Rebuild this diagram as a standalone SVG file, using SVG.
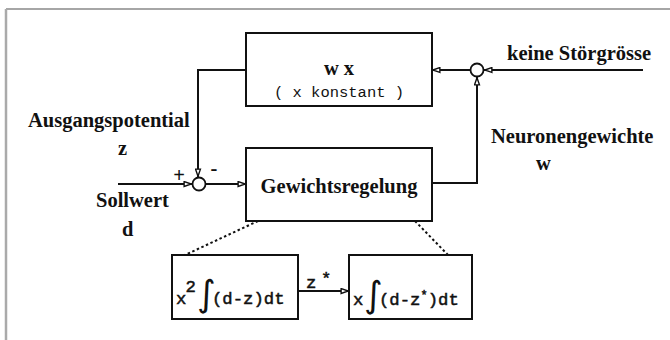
<svg xmlns="http://www.w3.org/2000/svg" width="670" height="340" viewBox="0 0 670 340">
<style>
.box{fill:#fff;stroke:#111;stroke-width:2}
.sum{fill:#fff;stroke:#111;stroke-width:1.8}
.ln{fill:none;stroke:#111;stroke-width:2}
.dot{fill:none;stroke:#111;stroke-width:2;stroke-dasharray:2.5 2.5}
.lbl{font-family:"Liberation Serif","Times New Roman",serif;font-weight:bold;font-size:20.5px;fill:#111}
.mono{font-family:"Liberation Mono","Courier New",monospace;font-size:15.5px;fill:#111}
.f{font-family:"Liberation Mono","Courier New",monospace;font-size:17.3px;fill:#111;stroke:#111;stroke-width:0.5}
.int{font-family:"DejaVu Sans",sans-serif;font-size:36px;fill:#111}
</style>
<defs>
<marker id="ah" viewBox="0 0 10 8" refX="10" refY="4" markerWidth="9" markerHeight="7" markerUnits="userSpaceOnUse" orient="auto">
<path d="M1,1.2 L9.2,4 L1,6.8 Z" fill="#fff" stroke="#111" stroke-width="1.6"/>
</marker>
</defs>
<rect width="670" height="340" fill="#fff"/>
<g id="frame">
<line x1="6" y1="9" x2="670" y2="9" stroke="#888" stroke-width="1.5"/>
<line x1="6" y1="9" x2="6" y2="340" stroke="#aaa" stroke-width="2.5"/>
</g>
<g id="connectors">
<polyline class="ln" points="246,70 198,70 198,177" marker-end="url(#ah)"/>
<line class="ln" x1="118" y1="184" x2="192" y2="184" marker-end="url(#ah)"/>
<line class="ln" x1="205" y1="184" x2="246" y2="184" marker-end="url(#ah)"/>
<polyline class="ln" points="432,183 477,183 477,77" marker-end="url(#ah)"/>
<line class="ln" x1="643" y1="70" x2="484" y2="70" marker-end="url(#ah)"/>
<line class="ln" x1="471" y1="70" x2="432" y2="70" marker-end="url(#ah)"/>
<line class="ln" x1="298" y1="291" x2="349" y2="291" marker-end="url(#ah)"/>
<line class="dot" x1="258" y1="221" x2="185" y2="255"/>
<line class="dot" x1="415" y1="221" x2="448" y2="255"/>
</g>
<g id="wx">
<rect class="box" x="246" y="33" width="186" height="73"/>
<text class="lbl" x="339" y="75" text-anchor="middle">w x</text>
<text class="mono" x="339" y="97" text-anchor="middle">( x konstant )</text>
</g>
<g id="gewichtsregelung">
<rect class="box" x="246" y="148" width="186" height="73"/>
<text class="lbl" x="339" y="193" text-anchor="middle">Gewichtsregelung</text>
</g>
<g id="sum1">
<circle class="sum" cx="199" cy="184" r="6.5"/>
<text class="lbl" x="179" y="182" font-size="16" text-anchor="middle">+</text>
<text class="lbl" x="214" y="175" font-size="18" text-anchor="middle">-</text>
</g>
<g id="sum2">
<circle class="sum" cx="477" cy="70" r="6.5"/>
</g>
<g id="integrator1">
<rect class="box" x="172" y="255" width="126" height="64"/>
<text class="f" x="176" y="304">x</text>
<text class="f" x="185.5" y="292" font-size="10">2</text>
<text class="int" x="197" y="306">∫</text>
<text class="f" x="212" y="304">(d-z)dt</text>
</g>
<g id="integrator2">
<rect class="box" x="349" y="255" width="123" height="64"/>
<text class="f" x="353" y="305">x</text>
<text class="int" x="364" y="307">∫</text>
<text class="f" x="379" y="305">(d-z<tspan font-size="12" dy="-6">*</tspan><tspan dy="6">)dt</tspan></text>
</g>
<g id="labels">
<text class="lbl" x="28" y="127">Ausgangspotential</text>
<text class="lbl" x="118" y="155">z</text>
<text class="lbl" x="96" y="207">Sollwert</text>
<text class="lbl" x="122" y="236">d</text>
<text class="lbl" x="491" y="143">Neuronengewichte</text>
<text class="lbl" x="536" y="170">w</text>
<text class="lbl" x="507" y="60">keine Störgrösse</text>
<text class="f" x="306" y="288">z</text>
<text class="f" x="321" y="284" font-size="13">*</text>
</g>
</svg>
